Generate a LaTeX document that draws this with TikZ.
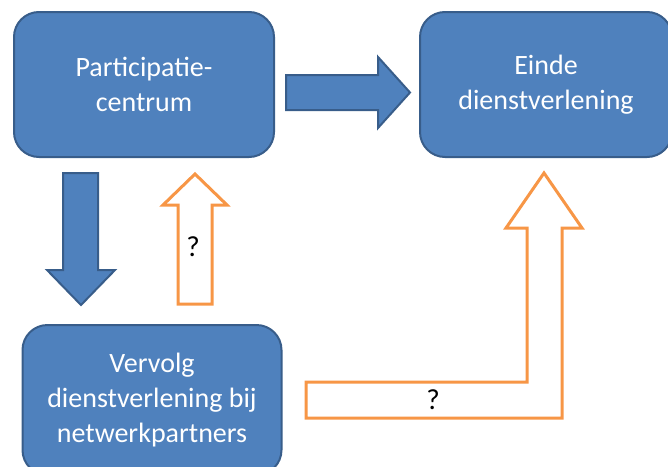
\documentclass[tikz,border=0pt]{standalone}
\usepackage{fontspec}
\setmainfont{Carlito}
\usetikzlibrary{positioning}
\definecolor{boxblue}{RGB}{79, 129, 189}
\definecolor{edgeblue}{RGB}{56, 93, 138}
\definecolor{lineorange}{RGB}{247, 150, 70}

\begin{document}
\begin{tikzpicture}[x=1pt, y=-1pt,
  stage/.style={rectangle, rounded corners=25pt, draw=edgeblue, line width=2pt,
    fill=boxblue, text=white, align=center,
    font=\fontsize{28}{35}\selectfont},
  bluearrow/.style={draw=edgeblue, line width=2pt, fill=boxblue, line join=miter},
  openarrow/.style={draw=lineorange, line width=3pt, fill=white, line join=miter},
  query/.style={font=\fontsize{29}{32}\selectfont}]

  \useasboundingbox (0, 0) rectangle (668, 466);

  % the three stages
  \node[stage, minimum width=260pt, minimum height=145pt] (centrum) at (144, 84.5)
    {Participatie-\\centrum};
  \node[stage, minimum width=252pt, minimum height=145pt] (einde) at (546, 84.5)
    {Einde\\dienstverlening};
  \node[stage, minimum width=259pt, minimum height=150pt] (vervolg) at (152, 400)
    {Vervolg\\dienstverlening bij\\netwerkpartners};

  % block arrows
  \draw[bluearrow] (286, 75) -- (378, 75) -- (378, 57) -- (410, 92.5)
    -- (378, 128) -- (378, 110) -- (286, 110) -- cycle;

  \draw[bluearrow] (63, 173) -- (98, 173) -- (98, 270) -- (115, 270)
    -- (81, 305) -- (47, 270) -- (63, 270) -- cycle;

  \draw[openarrow] (178, 304) -- (212, 304) -- (212, 205) -- (227, 205)
    -- (195, 174) -- (163, 205) -- (178, 205) -- cycle;
  \node[query] (terug) at (193, 247) {?};

  \draw[openarrow] (306, 382) -- (527, 382) -- (527, 228) -- (506, 228)
    -- (544, 173) -- (582, 228) -- (562, 228) -- (562, 418) -- (306, 418) -- cycle;
  \node[query] (verder) at (433, 400) {?};

\end{tikzpicture}
\end{document}
